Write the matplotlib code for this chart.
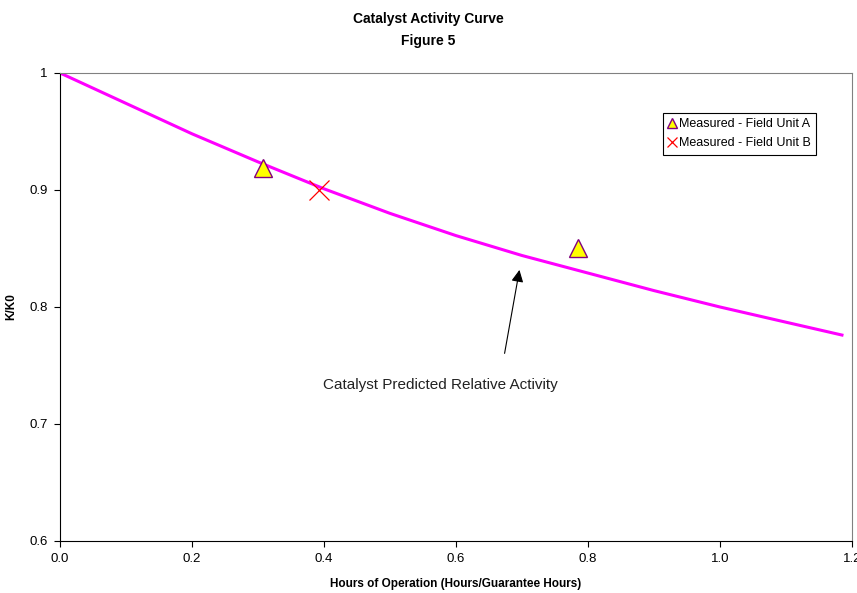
import matplotlib.pyplot as plt

plt.rcParams['font.family'] = ['Liberation Sans', 'DejaVu Sans']

# predicted relative activity curve
curve_x = [0.0, 0.1, 0.2, 0.3, 0.4, 0.5, 0.6, 0.7, 0.8, 0.9, 1.0, 1.1, 1.185]
curve_y = [1.0, 0.974, 0.948, 0.924, 0.901, 0.880, 0.861, 0.844, 0.829, 0.814, 0.800, 0.787, 0.776]

# measured points
unit_a_x = [0.308, 0.785]
unit_a_y = [0.919, 0.850]
unit_b_x = [0.392]
unit_b_y = [0.900]

x_ticks = [0.0, 0.2, 0.4, 0.6, 0.8, 1.0, 1.2]
y_ticks = [0.6, 0.7, 0.8, 0.9, 1.0]
y_labels = ['0.6', '0.7', '0.8', '0.9', '1']

fig = plt.figure(figsize=(8.57, 5.93), dpi=100)
ax = fig.add_axes([0.070, 0.0877, 0.924, 0.7893])

ax.plot(curve_x, curve_y, color='#ff00ff', lw=2.2, zorder=2)
ax.plot(unit_a_x, unit_a_y, linestyle='none', marker='^', markersize=13,
        markerfacecolor='#ffff00', markeredgecolor='#800080', markeredgewidth=1,
        label='Measured - Field Unit A', zorder=3)
ax.plot(unit_b_x, unit_b_y, linestyle='none', marker='x', markersize=14,
        color='#ff0000', markeredgewidth=0.9, label='Measured - Field Unit B', zorder=3)

ax.annotate('', xy=(0.697, 0.834), xytext=(0.673, 0.758),
            arrowprops=dict(arrowstyle='-|>', color='black', lw=0.8,
                            mutation_scale=18))
ax.text(0.577, 0.733, 'Catalyst Predicted Relative Activity', ha='center',
        va='center', fontsize=11, color='#222222')

ax.set_xlim(0, 1.2)
ax.set_ylim(0.6, 1.0)
ax.set_xticks(x_ticks)
ax.set_xticklabels(['%.1f' % v for v in x_ticks])
ax.set_yticks(y_ticks)
ax.set_yticklabels(y_labels)
ax.tick_params(direction='out', length=4, labelsize=9.5, colors='black', pad=5)

for s in ['top', 'right']:
    ax.spines[s].set_color('#808080')
for s in ['left', 'bottom']:
    ax.spines[s].set_color('black')

ax.set_xlabel('Hours of Operation (Hours/Guarantee Hours)', fontsize=8.5,
              fontweight='bold')
ax.set_ylabel('K/K0', fontsize=8.5, fontweight='bold')
ax.xaxis.set_label_coords(0.5, -0.078)
ax.yaxis.set_label_coords(-0.054, 0.5)
fig.suptitle('Catalyst Activity Curve\nFigure 5', fontsize=10, fontweight='bold',
             y=0.98, linespacing=1.7)

leg = ax.legend(loc='upper right', bbox_to_anchor=(0.955, 0.915), fontsize=9,
                markerscale=0.55, handlelength=0.6, handletextpad=0.2,
                borderpad=0.45, labelspacing=0.55, fancybox=False,
                edgecolor='black', framealpha=1, borderaxespad=0)
leg.get_frame().set_linewidth(0.8)

plt.savefig('out.png', dpi=100)
